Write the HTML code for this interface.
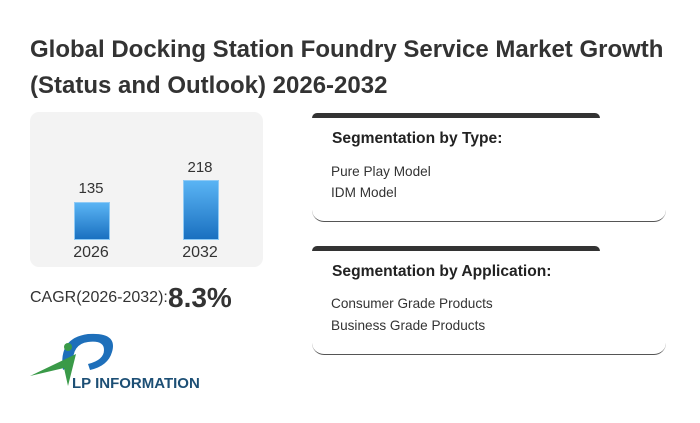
<!DOCTYPE html>
<html><head><meta charset="utf-8"><style>
body{margin:0;width:700px;height:423px;background:#fff;font-family:"Liberation Sans",Arial,sans-serif;position:relative;overflow:hidden}
.a{position:absolute}
.t{left:30px;top:32px;font-size:24px;font-weight:bold;color:#333;line-height:36px;white-space:nowrap}
.panel{left:30px;top:112px;width:233px;height:155px;background:#f3f3f3;border-radius:9px}
.bar{background:linear-gradient(#5ab4f4,#1a70c0);border:1px solid #8fcaf5}
.n{font-size:15px;color:#333;width:60px;text-align:center}
.box{border-radius:12px;border-bottom:1.5px solid #555;width:354px;height:108px}
.top{height:5px;background:#333;border-radius:8px 8px 0 0;width:288px}
.h{font-size:15.6px;font-weight:bold;color:#222}
.i{font-size:13.6px;color:#333}
</style></head><body>
<div class="a t">Global Docking Station Foundry Service Market Growth<br>(Status and Outlook) 2026-2032</div>
<div class="a panel"></div>
<div class="a bar" style="left:74px;top:202px;width:34px;height:36px"></div>
<div class="a bar" style="left:183px;top:180px;width:34px;height:58px"></div>
<div class="a n" style="left:61px;top:180px">135</div>
<div class="a n" style="left:170px;top:159px">218</div>
<div class="a n" style="left:61px;top:244px;font-size:16px">2026</div>
<div class="a n" style="left:170px;top:244px;font-size:16px">2032</div>
<div class="a" style="left:30px;top:289px;font-size:16px;color:#333">CAGR(2026-2032):</div>
<div class="a" style="left:168px;top:282px;font-size:28px;font-weight:bold;color:#333">8.3%</div>
<svg class="a" style="left:28px;top:330px" width="200" height="64">
<path d="M35 40 Q30 8 60 4 Q90 2 84 22 Q80 36 62 40 L60 34 Q76 30 76 20 Q76 10 60 12 Q44 14 45 34Z" fill="#1e6fba"/>
<circle cx="40" cy="17" r="4" fill="#3a9a48"/>
<path d="M2 46 L48 24 L40 56 L36 38Z" fill="#3a9a48"/>
<text x="44" y="58" font-family="Liberation Sans" font-weight="bold" font-size="15" fill="#1d4f75">LP INFORMATION</text>
</svg>
<div class="a top" style="left:312px;top:113px"></div>
<div class="a box" style="left:312px;top:113px"></div>
<div class="a h" style="left:332px;top:130px">Segmentation by Type:</div>
<div class="a i" style="left:331px;top:164px">Pure Play Model</div>
<div class="a i" style="left:331px;top:185px">IDM Model</div>
<div class="a top" style="left:312px;top:246px"></div>
<div class="a box" style="left:312px;top:246px"></div>
<div class="a h" style="left:332px;top:263px">Segmentation by Application:</div>
<div class="a i" style="left:331px;top:296px">Consumer Grade Products</div>
<div class="a i" style="left:331px;top:318px">Business Grade Products</div>
</body></html>
